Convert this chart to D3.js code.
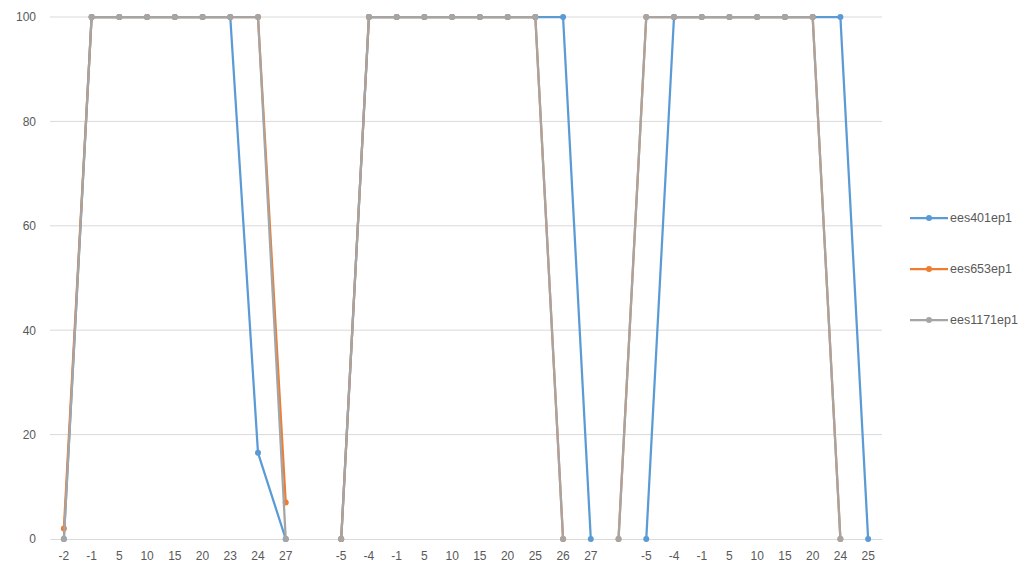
<!DOCTYPE html>
<html>
<head>
<meta charset="utf-8">
<script src="https://cdn.jsdelivr.net/npm/d3@7"></script>
<style>
  body { margin: 0; background: #fff; }
  svg { display: block; font-family: "Liberation Sans", Arial, sans-serif; }
  .tick text { fill: #595959; font-size: 12px; }
  .legend text { fill: #595959; font-size: 12.5px; }
</style>
</head>
<body>
<svg id="chart" width="1029" height="567"></svg>
<script>
// categories (blank slots are the gaps between runs)
const categories = [
  "-2", "-1", "5", "10", "15", "20", "23", "24", "27", "",
  "-5", "-4", "-1", "5", "10", "15", "20", "25", "26", "27", "",
  "-5", "-4", "-1", "5", "10", "15", "20", "24", "25"
];

const seriesNames = ["ees401ep1", "ees653ep1", "ees1171ep1"];
const seriesColors = ["#5b9bd5", "#ed7d31", "#a5a5a5"];

const ees401ep1 = [
  0, 100, 100, 100, 100, 100, 100, 16.5, 0, null,
  0, 100, 100, 100, 100, 100, 100, 100, 100, 0, null,
  0, 100, 100, 100, 100, 100, 100, 100, 0
];
const ees653ep1 = [
  2, 100, 100, 100, 100, 100, 100, 100, 7, null,
  0, 100, 100, 100, 100, 100, 100, 100, 0, null, 0,
  100, 100, 100, 100, 100, 100, 100, 0, null
];
const ees1171ep1 = [
  0, 100, 100, 100, 100, 100, 100, 100, 0, null,
  0, 100, 100, 100, 100, 100, 100, 100, 0, null, 0,
  100, 100, 100, 100, 100, 100, 100, 0, null
];

const yTicks = [0, 20, 40, 60, 80, 100];

const seriesValues = [ees401ep1, ees653ep1, ees1171ep1];

// SCALES
const svg = d3.select("#chart");
const idx = d3.range(categories.length);

const x = d3.scaleBand().domain(idx).range([50, 882]);
const y = d3.scaleLinear().domain([0, 100]).range([539, 17]);
const cx = i => x(i) + x.bandwidth() / 2;

// GRID
svg.append("g")
  .selectAll("line")
  .data(yTicks.filter(t => t > 0))
  .join("line")
  .attr("x1", 50).attr("x2", 882)
  .attr("y1", d => y(d)).attr("y2", d => y(d))
  .attr("stroke", "#d9d9d9")
  .attr("stroke-width", 1);

// AXES
const yAxis = svg.append("g")
  .attr("transform", "translate(50,0)")
  .call(d3.axisLeft(y).tickValues(yTicks).tickSize(0).tickPadding(14));
yAxis.select(".domain").remove();

const xAxis = svg.append("g")
  .attr("transform", "translate(0,539)")
  .call(d3.axisBottom(x).tickFormat(i => categories[i]).tickSize(0).tickPadding(12));
xAxis.select(".domain").attr("stroke", "#d9d9d9");

// LINES
const line = d3.line()
  .defined(d => d.v !== null)
  .x(d => cx(d.i))
  .y(d => y(d.v));

seriesValues.forEach((vals, s) => {
  const pts = vals.map((v, i) => ({ i, v }));
  const g = svg.append("g");
  g.append("path")
    .datum(pts)
    .attr("d", line)
    .attr("fill", "none")
    .attr("stroke", seriesColors[s])
    .attr("stroke-width", 2.25)
    .attr("stroke-linejoin", "round");
  g.selectAll("circle")
    .data(pts.filter(d => d.v !== null))
    .join("circle")
    .attr("cx", d => cx(d.i))
    .attr("cy", d => y(d.v))
    .attr("r", 3)
    .attr("fill", seriesColors[s]);
});

// LEGEND
const legend = svg.append("g").attr("class", "legend");
seriesNames.forEach((name, s) => {
  const ly = 218 + s * 51;
  legend.append("line")
    .attr("x1", 910).attr("x2", 948)
    .attr("y1", ly).attr("y2", ly)
    .attr("stroke", seriesColors[s])
    .attr("stroke-width", 2.25);
  legend.append("circle")
    .attr("cx", 929).attr("cy", ly).attr("r", 3)
    .attr("fill", seriesColors[s]);
  legend.append("text")
    .attr("x", 950).attr("y", ly)
    .attr("dy", "0.35em")
    .text(name);
});
</script>
</body>
</html>
